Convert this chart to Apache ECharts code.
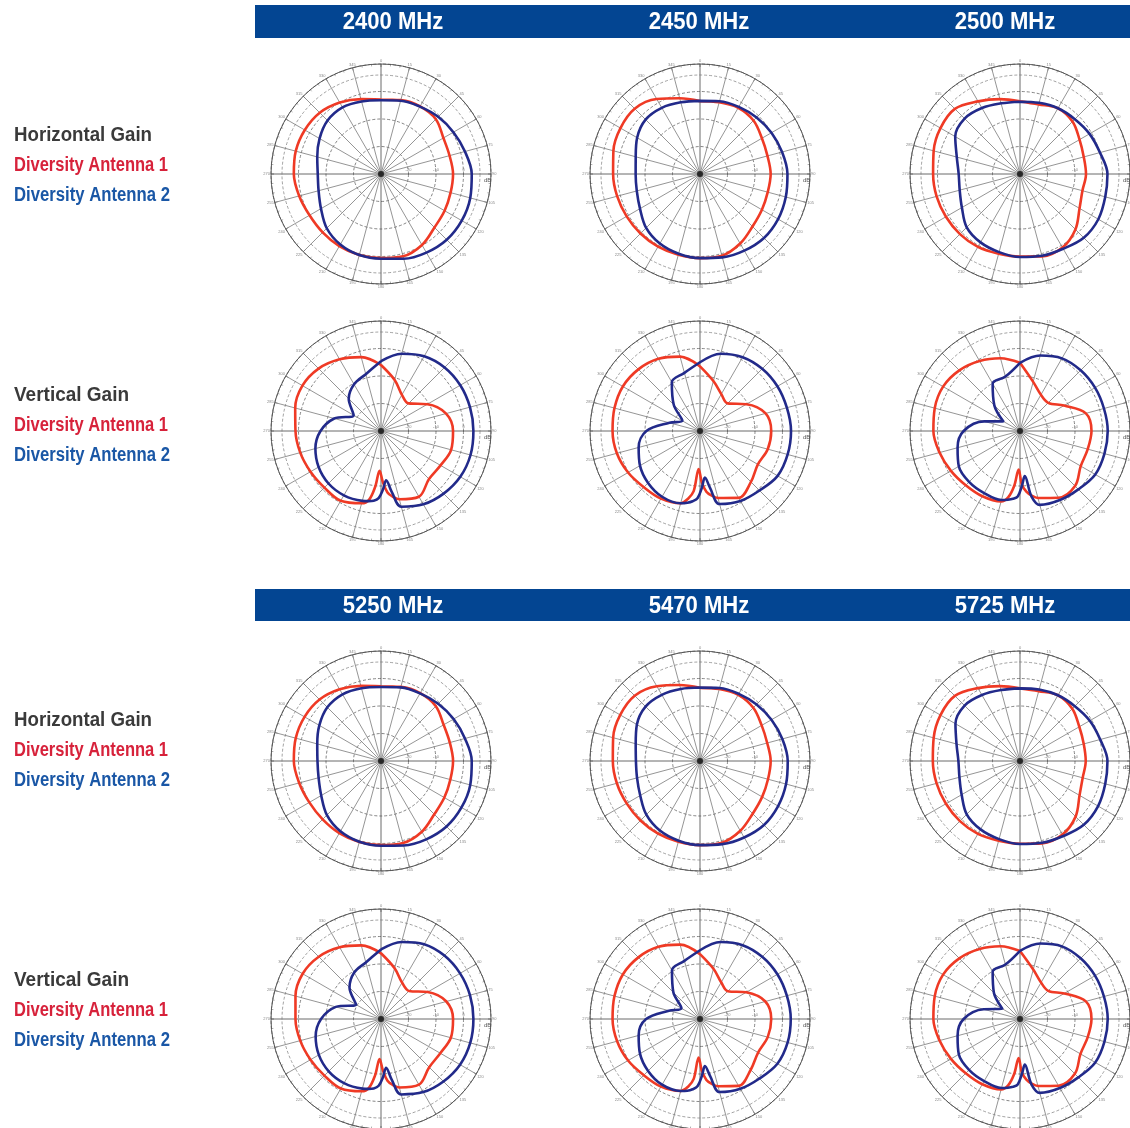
<!DOCTYPE html>
<html>
<head>
<meta charset="utf-8">
<script src="https://cdn.jsdelivr.net/npm/echarts@6/dist/echarts.min.js"></script>
<style>
  html, body { margin: 0; padding: 0; background: #ffffff; }
  #chart { width: 1130px; height: 1128px; }
</style>
</head>
<body>
<div id="chart"></div>
<script>
// Column headings (frequencies) for the two groups of plots
const FREQ_TOP = ['2400 MHz', '2450 MHz', '2500 MHz'];
const FREQ_BOTTOM = ['5250 MHz', '5470 MHz', '5725 MHz'];

// Row titles and legend entries
const ROW_TITLES = ['Horizontal Gain', 'Vertical Gain', 'Horizontal Gain', 'Vertical Gain'];
const SERIES_NAMES = ['Diversity Antenna 1', 'Diversity Antenna 2'];

// Measurement angles (degrees, clockwise from 0 at the top)
const H_ANGLES = [0, 15, 30, 45, 60, 75, 90, 105, 120, 135, 150, 165,
                  180, 195, 210, 225, 240, 255, 270, 285, 300, 315, 330, 345];
const V_ANGLES = [0, 15, 30, 45, 60, 75, 90, 105, 120, 135, 150, 165,
                  170, 174, 178, 182, 186, 190,
                  195, 210, 225, 240, 255, 270, 285, 300, 315, 330, 345];

// Gain in dB — horizontal plane
const h2400_ant1 = [-2.9, -2.2, -1.6, -1.8, -3.8, -4.2, -3.8, -3.8, -3.3, -2.5, -0.2, 1.0, 0.6, 0.5, 0.3, 0.0, 0.0, 0.8, 1.7, 2.1, 2.0, 1.5, 0.0, -1.8];
const h2400_ant2 = [-3.2, -2.4, -1.7, -0.6, 0.4, 1.6, 3.0, 3.6, 3.9, 3.8, 3.0, 1.9, 0.8, 0.5, -0.4, -2.1, -4.8, -6.5, -7.0, -6.0, -4.2, -2.5, -2.0, -2.7];
const h2450_ant1 = [-3.5, -3.0, -2.2, -2.5, -4.0, -4.6, -4.3, -4.5, -4.0, -3.0, -0.8, 0.8, 0.6, 0.4, 0.5, 0.6, 0.8, 1.2, 1.6, 2.6, 3.4, 3.6, 1.5, -1.5];
const h2450_ant2 = [-3.4, -2.6, -1.8, -0.9, 0.0, 0.9, 1.8, 2.3, 2.8, 2.9, 2.2, 1.4, 0.6, 0.0, -0.8, -2.3, -4.8, -6.2, -6.6, -5.8, -3.6, -2.0, -2.2, -3.0];
const h2500_ant1 = [-3.6, -3.8, -2.4, -3.0, -5.0, -6.0, -6.0, -6.5, -5.0, -1.5, 0.9, 1.0, 0.0, 0.0, 0.6, 0.9, 1.1, 1.4, 1.6, 2.5, 3.4, 3.5, 0.5, -1.8];
const h2500_ant2 = [-3.7, -3.2, -2.4, -1.8, -0.8, 0.1, 1.8, 2.1, 2.9, 2.8, 1.4, 0.8, 0.2, -0.6, -1.3, -2.6, -5.6, -7.3, -7.7, -6.2, -2.8, -1.5, -2.3, -3.4];
const h5250_ant1 = [-2.8, -2.1, -1.5, -1.8, -3.7, -4.1, -3.8, -3.9, -3.4, -2.6, -0.3, 0.9, 0.6, 0.5, 0.3, 0.0, 0.1, 0.8, 1.7, 2.1, 2.1, 1.6, 0.1, -1.7];
const h5250_ant2 = [-3.1, -2.3, -1.6, -0.6, 0.5, 1.6, 3.0, 3.6, 3.8, 3.7, 2.9, 1.8, 0.8, 0.4, -0.5, -2.2, -4.9, -6.5, -6.9, -6.0, -4.1, -2.4, -2.0, -2.6];
const h5470_ant1 = [-3.4, -2.9, -2.2, -2.6, -4.1, -4.7, -4.3, -4.4, -3.9, -2.9, -0.7, 0.8, 0.6, 0.4, 0.5, 0.6, 0.8, 1.3, 1.7, 2.7, 3.5, 3.6, 1.4, -1.4];
const h5470_ant2 = [-3.3, -2.5, -1.8, -0.9, 0.0, 1.0, 1.9, 2.4, 2.8, 2.9, 2.1, 1.3, 0.6, 0.0, -0.8, -2.4, -4.9, -6.3, -6.7, -5.8, -3.5, -2.0, -2.2, -2.9];
const h5725_ant1 = [-3.6, -3.7, -2.4, -3.1, -5.1, -6.0, -6.1, -6.4, -5.0, -1.4, 0.9, 1.0, 0.1, 0.0, 0.6, 0.9, 1.1, 1.4, 1.7, 2.5, 3.4, 3.5, 0.6, -1.8];
const h5725_ant2 = [-3.6, -3.1, -2.4, -1.8, -0.7, 0.2, 1.8, 2.1, 2.8, 2.8, 1.5, 0.8, 0.2, -0.6, -1.3, -2.6, -5.5, -7.2, -7.6, -6.1, -2.9, -1.5, -2.3, -3.3];

// Gain in dB — vertical plane
const v2400_ant1 = [-6.0, -10.8, -14.8, -15.8, -10.5, -5.5, -3.8, -3.6, -5.0, -5.3, -2.4, -4.3, -5.8, -7.5, -11.5, -15.5, -9.5, -4.5, -2.8, -0.7, -0.9, -0.4, 0.4, 1.1, 2.3, 3.0, 2.1, 0.1, -2.2];
const v2400_ant2 = [-4.6, -0.9, 1.4, 2.7, 3.3, 3.5, 3.6, 3.7, 3.3, 2.2, 0.8, -1.5, -7.5, -12.0, -8.8, -5.6, -4.5, -4.1, -3.7, -3.0, -3.0, -3.8, -5.3, -8.0, -12.4, -18.5, -13.4, -10.4, -8.6];
const v2450_ant1 = [-6.5, -11.2, -14.5, -15.8, -10.5, -5.3, -4.1, -4.5, -5.7, -3.8, -1.9, -4.8, -6.2, -7.8, -11.3, -16.2, -8.0, -5.0, -2.8, -1.6, -1.1, 0.2, 1.3, 1.8, 2.2, 2.4, 1.7, 0.3, -2.0];
const v2450_ant2 = [-5.0, -0.9, 1.0, 2.0, 2.5, 2.7, 3.1, 3.0, 2.6, 0.6, -0.6, -2.5, -9.0, -13.0, -9.5, -5.6, -4.3, -3.5, -2.8, -2.4, -3.3, -4.8, -6.9, -10.5, -18.5, -22.6, -16.5, -9.5, -8.1];
const v2500_ant1 = [-5.2, -11.5, -14.8, -15.5, -11.5, -5.2, -4.0, -4.5, -4.5, -1.7, -2.0, -4.8, -6.2, -7.8, -10.5, -16.0, -10.0, -5.6, -3.5, -2.6, -2.1, -1.0, 0.3, 1.5, 2.1, 2.3, 1.2, -0.6, -2.6];
const v2500_ant2 = [-5.2, -1.6, 0.5, 1.2, 1.5, 1.6, 1.9, 1.8, 1.6, 0.0, -1.0, -2.2, -5.8, -13.5, -10.0, -6.2, -5.2, -4.6, -4.0, -3.9, -3.8, -4.3, -6.5, -9.5, -16.5, -23.0, -16.8, -10.1, -9.5];
const v5250_ant1 = [-6.1, -10.9, -14.7, -15.6, -10.4, -5.4, -3.8, -3.7, -5.1, -5.2, -2.4, -4.2, -5.7, -7.4, -11.4, -15.4, -9.4, -4.5, -2.8, -0.8, -0.9, -0.4, 0.4, 1.1, 2.2, 2.9, 2.0, 0.1, -2.3];
const v5250_ant2 = [-4.7, -1.0, 1.4, 2.6, 3.2, 3.5, 3.6, 3.6, 3.2, 2.1, 0.7, -1.6, -7.6, -12.2, -8.9, -5.7, -4.6, -4.2, -3.8, -3.1, -3.1, -3.9, -5.4, -8.2, -13.0, -19.5, -13.8, -10.5, -8.7];
const v5470_ant1 = [-6.4, -11.1, -14.6, -15.7, -10.6, -5.4, -4.1, -4.5, -5.6, -3.9, -1.9, -4.7, -6.1, -7.7, -11.2, -16.0, -8.1, -5.0, -2.9, -1.6, -1.1, 0.2, 1.2, 1.8, 2.2, 2.4, 1.7, 0.3, -2.0];
const v5470_ant2 = [-5.0, -1.0, 1.0, 2.0, 2.5, 2.7, 3.0, 3.0, 2.5, 0.6, -0.7, -2.5, -9.0, -12.8, -9.4, -5.6, -4.3, -3.5, -2.9, -2.4, -3.3, -4.8, -6.9, -10.4, -18.3, -22.2, -16.3, -9.6, -8.1];
const v5725_ant1 = [-5.3, -11.4, -14.7, -15.5, -11.4, -5.2, -4.0, -4.5, -4.6, -1.8, -2.0, -4.8, -6.2, -7.8, -10.6, -15.8, -10.0, -5.6, -3.5, -2.6, -2.1, -1.0, 0.3, 1.5, 2.1, 2.3, 1.2, -0.6, -2.6];
const v5725_ant2 = [-5.2, -1.6, 0.5, 1.2, 1.5, 1.6, 1.9, 1.8, 1.6, 0.0, -1.0, -2.2, -5.8, -13.3, -10.0, -6.2, -5.2, -4.6, -4.0, -3.9, -3.8, -4.3, -6.5, -9.5, -16.3, -22.6, -16.6, -10.1, -9.5];

// Radial scale of every plot (dB)
const R_MIN = -30;
const R_MAX = 10;
const R_STEP = 10;
const BAND_EDGE = 6; // inner edge of the angle-label band

// Grid of plots: [row][col] -> pair of series
const PLOTS = [
  [[h2400_ant1, h2400_ant2], [h2450_ant1, h2450_ant2], [h2500_ant1, h2500_ant2]],
  [[v2400_ant1, v2400_ant2], [v2450_ant1, v2450_ant2], [v2500_ant1, v2500_ant2]],
  [[h5250_ant1, h5250_ant2], [h5470_ant1, h5470_ant2], [h5725_ant1, h5725_ant2]],
  [[v5250_ant1, v5250_ant2], [v5470_ant1, v5470_ant2], [v5725_ant1, v5725_ant2]]
];
const ROW_ANGLES = [H_ANGLES, V_ANGLES, H_ANGLES, V_ANGLES];

// Layout
const COL_X = [381, 700, 1020];
const ROW_Y = [174, 431, 761, 1019];
const RADIUS = 110;
const HEADER_TEXT_X = [393, 699, 1005];
const LABEL_Y = [135, 395, 720, 980];
// rendered widths of the legend lines (condensed face)
const LEGEND_WIDTH = { 'Horizontal Gain': 138, 'Vertical Gain': 115,
                       'Diversity Antenna 1': 154, 'Diversity Antenna 2': 156 };

const RED = '#ef3a25';
const BLUE = '#222a8a';
const GRID = '#7a7a7a';
const TEXT_FONT = "'Liberation Sans', Arial, sans-serif";

function toPolar(values, angles) {
  const d = values.map((v, i) => [v, angles[i]]);
  d.push([values[0], 360]);
  return d;
}

const polar = [], angleAxis = [], radiusAxis = [], series = [];
let p = 0;
for (let r = 0; r < 4; r++) {
  for (let c = 0; c < 3; c++) {
    const center = [COL_X[c], ROW_Y[r]];
    const main = p, band = p + 1;
    p += 2;

    // main grid: spokes, rings, outer circle with angle labels
    polar.push({ center: center, radius: RADIUS });
    angleAxis.push({
      polarIndex: main, type: 'value', min: 0, max: 360, interval: 15,
      startAngle: 90, clockwise: true,
      axisLine: { show: true, lineStyle: { color: '#555', width: 1 } },
      axisTick: { show: true, inside: true, length: 3, lineStyle: { color: '#666', width: 0.7 } },
      minorTick: { show: true, splitNumber: 3, length: 2, lineStyle: { color: '#777', width: 0.6 } },
      axisLabel: { show: true, fontSize: 4, color: '#888', margin: 1,
                   formatter: v => (v === 360 ? '' : String(v)) },
      splitLine: { show: true, lineStyle: { width: 0.8,
                   color: ['#444', GRID, GRID, GRID, GRID, GRID] } }
    });
    radiusAxis.push({
      polarIndex: main, type: 'value', min: R_MIN, max: R_MAX, interval: R_STEP,
      axisLine: { show: false }, axisTick: { show: false }, axisLabel: { show: false },
      splitLine: { show: true, lineStyle: { color: '#666', width: 0.8, type: [3, 2] } }
    });

    // inner edge of the label band, with the dB scale along the 90° spoke
    polar.push({ center: center, radius: RADIUS * (BAND_EDGE - R_MIN) / (R_MAX - R_MIN) });
    angleAxis.push({
      polarIndex: band, type: 'value', min: 0, max: 360, interval: 15,
      startAngle: 0, clockwise: true,
      axisLine: { show: true, lineStyle: { color: '#7a7a7a', width: 0.7, type: [3, 2] } },
      axisTick: { show: false },
      axisLabel: { show: false },
      splitLine: { show: false }
    });
    radiusAxis.push({
      polarIndex: band, type: 'value', min: R_MIN, max: BAND_EDGE, interval: R_STEP,
      axisLine: { show: false }, axisTick: { show: false },
      axisLabel: { show: true, fontSize: 4, color: '#888', margin: 2,
                   formatter: v => (v === R_MIN || v > 0 ? '' : String(v)) },
      splitLine: { show: false },
      name: 'dB', nameLocation: 'end', nameGap: 4,
      nameTextStyle: { fontSize: 6, color: '#555', verticalAlign: 'top', padding: [3, 0, 0, 0] }
    });

    const angles = ROW_ANGLES[r];
    const pair = PLOTS[r][c];
    [RED, BLUE].forEach((col, k) => {
      series.push({
        type: 'line', coordinateSystem: 'polar', polarIndex: main,
        name: SERIES_NAMES[k],
        data: toPolar(pair[k], angles),
        smooth: 0.35, symbol: 'none', silent: true, animation: false,
        lineStyle: { color: col, width: 2.6 }, z: 3 + k
      });
    });
    series.push({
      type: 'scatter', coordinateSystem: 'polar', polarIndex: main,
      data: [[R_MIN, 0]], symbolSize: 6, silent: true, animation: false,
      itemStyle: { color: '#111' }, z: 5
    });
  }
}

// text measuring for the condensed legend lines
const measureCtx = document.createElement('canvas').getContext('2d');
function textWidth(text, font) { measureCtx.font = font; return measureCtx.measureText(text).width; }

// headers and row legends
const graphic = [];
[[5, 33, FREQ_TOP], [589, 32, FREQ_BOTTOM]].forEach(([y, h, labels]) => {
  graphic.push({ type: 'rect', shape: { x: 255, y: y, width: 875, height: h },
                 style: { fill: '#034592' }, silent: true });
  labels.forEach((t, i) => graphic.push({
    type: 'text', x: HEADER_TEXT_X[i], y: y + h / 2 + 1, scaleX: 0.92,
    style: { text: t, fill: '#ffffff', font: "bold 24px " + TEXT_FONT,
             align: 'center', verticalAlign: 'middle' }, silent: true
  }));
});
const LEGEND_FONT = "bold 20px " + TEXT_FONT;
const legendText = (text, y, color) => ({
  type: 'text', x: 14, y: y, silent: true,
  scaleX: LEGEND_WIDTH[text] / textWidth(text, LEGEND_FONT),
  style: { text: text, fill: color, font: LEGEND_FONT, verticalAlign: 'middle' }
});
LABEL_Y.forEach((y, r) => {
  graphic.push(legendText(ROW_TITLES[r], y, '#3a3a3a'));
  graphic.push(legendText(SERIES_NAMES[0], y + 30, '#d7223b'));
  graphic.push(legendText(SERIES_NAMES[1], y + 60, '#1a57a6'));
});

const chart = echarts.init(document.getElementById('chart'), null, { renderer: 'canvas' });
chart.setOption({
  backgroundColor: '#ffffff',
  animation: false,
  polar: polar,
  angleAxis: angleAxis,
  radiusAxis: radiusAxis,
  series: series,
  graphic: graphic
});
</script>
</body>
</html>
